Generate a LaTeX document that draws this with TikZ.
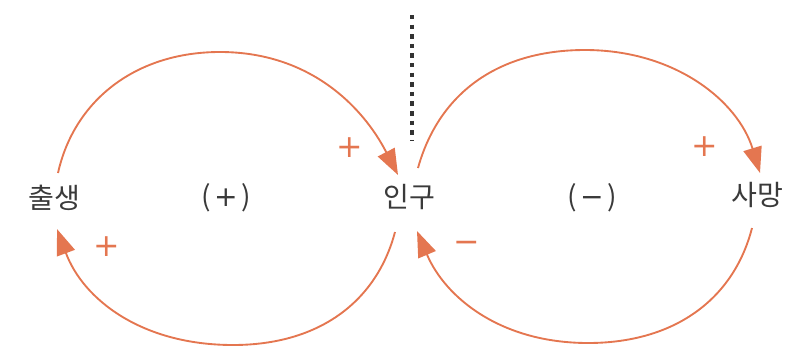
\documentclass[tikz,border=0pt]{standalone}
\usepackage{fontspec}
\setmainfont{Noto Sans CJK KR}
\newfontfamily\signfont{DejaVu Sans}
\usetikzlibrary{arrows.meta}
\definecolor{coral}{RGB}{228,118,80}
\definecolor{inkgray}{RGB}{58,58,58}

\begin{document}
\begin{tikzpicture}[x=0.03cm,y=-0.03cm,
    term/.style={text=inkgray,font=\fontsize{24}{26}\selectfont,inner sep=0pt},
    loopsign/.style={text=inkgray,font=\fontsize{24}{26}\selectfont,inner sep=0pt},
    polarity/.style={text=coral,font=\signfont\fontsize{27}{29}\selectfont,inner sep=0pt},
    link/.style={coral,line width=1.6pt,-{Triangle[length=22pt,width=16pt]}}]
        \useasboundingbox (0,0) rectangle (786,356);
        % variables and loop markers
        \node[term] (birth) at (54,198) {출생};
        \node[loopsign] (posloop) at (226,198) {(\hspace{0.12em}{\signfont\fontsize{24}{26}\selectfont +}\hspace{0.12em})};
        \node[term] (pop) at (409,197) {인구};
        \node[loopsign] (negloop) at (592,198) {(\hspace{0.12em}{\signfont\fontsize{24}{26}\selectfont −}\hspace{0.12em})};
        \node[term] (death) at (757,195) {사망};
        % divider
        \coordinate (divtop) at (412,15);
        \coordinate (divbot) at (412,140);
        \draw[black!80,line width=3pt,dash pattern=on 3.8pt off 4.4pt] (divtop) -- (divbot);
        % arc apexes
        \coordinate (ltop) at (220,52);
        \coordinate (lbot) at (233,345);
        \coordinate (rtop) at (585,50);
        \coordinate (rbot) at (588,343);
        % links
        \draw[link] ([shift={(4,-25)}]birth.center) .. controls +(16,-72) and +(-85,0) .. (ltop)
            .. controls +(90,0) and +(-35,-68) .. ([shift={(-11,-22)}]pop.center);
        \draw[link] ([shift={(-14,35)}]pop.center) .. controls +(-18,68) and +(88,0) .. (lbot)
            .. controls +(-92,0) and +(26,70) .. ([shift={(3,31)}]birth.center);
        \draw[link] ([shift={(9,-29)}]pop.center) .. controls +(20,-72) and +(-90,0) .. (rtop)
            .. controls +(90,0) and +(-22,-72) .. ([shift={(3,-22)}]death.center);
        \draw[link] ([shift={(-5,33)}]death.center) .. controls +(-18,70) and +(88,0) .. (rbot)
            .. controls +(-88,0) and +(28,66) .. ([shift={(8,34)}]pop.center);
        % polarities
        \node[polarity] (plusin) at (350,148) {+};
        \node[polarity] (plusbirth) at (107,247) {+};
        \node[polarity] (plusdeath) at (705,147) {+};
        \node[polarity] (minuspop) at (467,247) {−};
\end{tikzpicture}
\end{document}
